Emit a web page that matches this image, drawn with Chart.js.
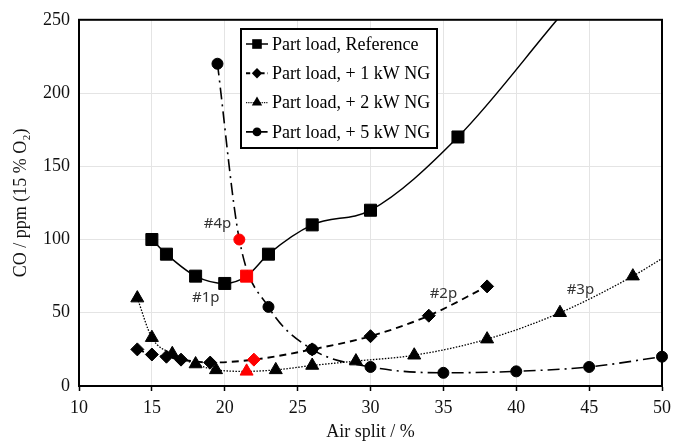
<!DOCTYPE html>
<html>
<head>
<meta charset="utf-8">
<script src="https://cdn.jsdelivr.net/npm/chart.js@4"></script>
<style>
  body { margin: 0; background: #fff; }
  #wrap { width: 685px; height: 443px; }
</style>
</head>
<body>
<div id="wrap"><canvas id="coChart" width="685" height="443"></canvas></div>
<script>
// values
const refX = [15, 16, 18, 20, 21.5, 23, 26, 30, 36];
const refY = [100, 90, 75, 70, 75, 90, 110, 120, 170];
const refFitX = [42.8];          // trend line continues past the last marker
const refFitY = [250];

const ng1X = [14, 15, 16, 17, 19, 22, 26, 30, 34, 38];
const ng1Y = [25, 21.5, 20, 18, 16, 18, 25, 34, 48, 68];

const ng2X = [14, 15, 16.4, 18, 19.4, 21.5, 23.5, 26, 29, 33, 38, 43, 48];
const ng2Y = [60, 33, 22, 15, 11, 10, 11, 14, 17, 21, 32, 50, 75];
const ng2FitX = [50];
const ng2FitY = [87];

const ng5X = [19.5, 21, 23, 26, 30, 35, 40, 45, 50];
const ng5Y = [220, 100, 54, 25, 13, 9, 10, 13, 20];

const seriesLabels = ['Part load, Reference', 'Part load, + 1 kW NG', 'Part load, + 2 kW NG', 'Part load, + 5 kW NG'];
const xTicks = [10, 15, 20, 25, 30, 35, 40, 45, 50];
const yTicks = [0, 50, 100, 150, 200, 250];

// design points (#1p..#4p) are drawn red
const redPoints = [4, 5, 5, 1];
const notes = [
    { text: '#4p', x: 19.5, y: 111 },
    { text: '#1p', x: 18.7, y: 60 },
    { text: '#2p', x: 35.0, y: 63 },
    { text: '#3p', x: 44.4, y: 66 }
];

function pts(xs, ys) {
    return xs.map((x, i) => ({ x: x, y: ys[i] }));
}

const styles = [
    { shape: 'rect', r: 8.5, dash: [], width: 1.5 },
    { shape: 'rectRot', r: 6.5, dash: [7, 5], width: 1.9 },
    { shape: 'triangle', r: 7.5, dash: [1.5, 1.5], width: 1.3 },
    { shape: 'circle', r: 5.5, dash: [12, 5, 2, 5], width: 1.6 }
];

const seriesData = [
    { d: pts(refX.concat(refFitX), refY.concat(refFitY)), n: refX.length },
    { d: pts(ng1X, ng1Y), n: ng1X.length },
    { d: pts(ng2X.concat(ng2FitX), ng2Y.concat(ng2FitY)), n: ng2X.length },
    { d: pts(ng5X, ng5Y), n: ng5X.length }
];

const datasets = seriesData.map((s, k) => ({
    label: seriesLabels[k],
    data: s.d,
    showLine: true,
    cubicInterpolationMode: 'monotone',
    borderColor: '#000',
    borderWidth: styles[k].width,
    borderDash: styles[k].dash,
    pointStyle: styles[k].shape,
    pointRadius: ctx => ctx.dataIndex < s.n ? styles[k].r : 0,
    pointHoverRadius: ctx => ctx.dataIndex < s.n ? styles[k].r : 0,
    pointBorderWidth: 1,
    pointBackgroundColor: ctx => ctx.dataIndex === redPoints[k] ? '#ff0000' : '#000',
    pointBorderColor: ctx => ctx.dataIndex === redPoints[k] ? '#ff0000' : '#000',
    clip: false
}));

function marker(ctx, shape, x, y, r) {
    ctx.beginPath();
    if (shape === 'rect') {
        const s = r * Math.SQRT1_2;
        ctx.rect(x - s, y - s, 2 * s, 2 * s);
    } else if (shape === 'rectRot') {
        ctx.moveTo(x - r, y); ctx.lineTo(x, y - r); ctx.lineTo(x + r, y); ctx.lineTo(x, y + r);
        ctx.closePath();
    } else if (shape === 'triangle') {
        ctx.moveTo(x, y - r);
        ctx.lineTo(x + r * 0.866, y + r * 0.5);
        ctx.lineTo(x - r * 0.866, y + r * 0.5);
        ctx.closePath();
    } else {
        ctx.arc(x, y, r, 0, Math.PI * 2);
    }
    ctx.fill();
}

const framePlugin = {
    id: 'frame',
    beforeDatasetsDraw(chart) {
        const a = chart.chartArea;
        const ctx = chart.ctx;
        ctx.save();
        ctx.strokeStyle = '#000';
        ctx.lineWidth = 2;
        ctx.strokeRect(a.left, a.top, a.right - a.left, a.bottom - a.top);
        ctx.restore();
    },
    afterDatasetsDraw(chart) {
        const ctx = chart.ctx;
        const xs = chart.scales.x, ys = chart.scales.y;
        ctx.save();
        // annotations
        ctx.font = '15px "Noto Sans"';
        ctx.fillStyle = '#333';
        ctx.textAlign = 'center';
        ctx.textBaseline = 'middle';
        notes.forEach(n => ctx.fillText(n.text, xs.getPixelForValue(n.x), ys.getPixelForValue(n.y)));

        // legend box
        const bx = 241, by = 29, bw = 196, bh = 119;
        ctx.fillStyle = '#fff';
        ctx.fillRect(bx, by, bw, bh);
        ctx.strokeStyle = '#000';
        ctx.lineWidth = 2;
        ctx.strokeRect(bx, by, bw, bh);
        ctx.font = '18px "Liberation Serif"';
        ctx.textAlign = 'left';
        seriesLabels.forEach((lab, k) => {
            const y = 44 + k * 29.3;
            ctx.strokeStyle = '#000';
            ctx.lineWidth = styles[k].width;
            ctx.setLineDash(styles[k].dash.map(v => v * 0.6));
            ctx.beginPath();
            ctx.moveTo(246, y);
            ctx.lineTo(268, y);
            ctx.stroke();
            ctx.setLineDash([]);
            ctx.fillStyle = '#000';
            marker(ctx, styles[k].shape, 257, y, styles[k].r * 0.8);
            ctx.fillText(lab, 272, y + 1);
        });
        ctx.restore();
    }
};

const serif = { family: '"Liberation Serif", "Times New Roman", serif', size: 18 };

new Chart(document.getElementById('coChart').getContext('2d'), {
    type: 'scatter',
    data: { datasets: datasets },
    options: {
        responsive: false,
        animation: false,
        layout: { padding: { top: 17, right: 23, left: 0, bottom: 0 } },
        plugins: {
            legend: { display: false },
            tooltip: { enabled: false }
        },
        scales: {
            x: {
                type: 'linear',
                min: 10,
                max: 50,
                afterBuildTicks: scale => { scale.ticks = xTicks.map(v => ({ value: v })); },
                afterFit: scale => { scale.height = 57; },
                grid: { color: '#e4e4e4', lineWidth: 1, tickLength: 5, tickColor: '#000', tickWidth: 1.5 },
                border: { color: '#000', width: 2 },
                ticks: { font: serif, color: '#111', padding: 6, maxRotation: 0 },
                title: { display: true, text: 'Air split / %', font: serif, color: '#111', padding: { top: 0, bottom: 0 } }
            },
            y: {
                type: 'linear',
                min: 0,
                max: 250,
                afterBuildTicks: scale => { scale.ticks = yTicks.map(v => ({ value: v })); },
                afterFit: scale => { scale.width = 79; },
                grid: { color: '#e4e4e4', lineWidth: 1, drawTicks: false },
                border: { color: '#000', width: 2 },
                ticks: { font: serif, color: '#111', padding: 9 },
                title: { display: true, text: 'CO / ppm (15 % O\u2082)', font: serif, color: '#111', padding: { top: 10, bottom: 0 } }
            }
        }
    },
    plugins: [framePlugin]
});
</script>
</body>
</html>
